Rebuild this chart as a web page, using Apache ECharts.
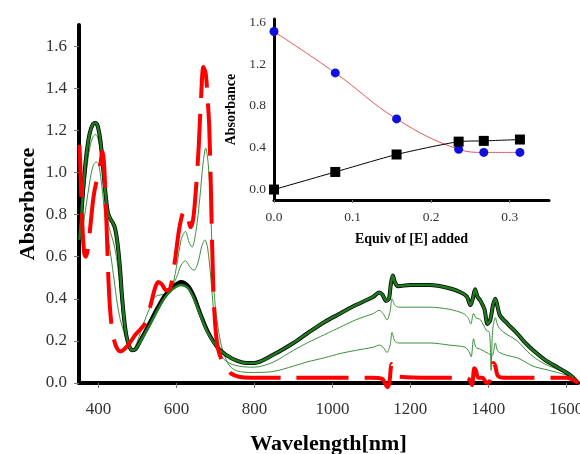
<!DOCTYPE html>
<html>
<head>
<meta charset="utf-8">
<script src="https://cdn.jsdelivr.net/npm/echarts@6/dist/echarts.min.js"></script>
<style>html,body{margin:0;padding:0;background:#fff}#c{width:580px;height:454px}</style>
</head>
<body>
<div id="c"></div>
<script>
// ---- Main spectra data (wavelength nm, absorbance) ----
const redWl = [351,353,356,360,364,368,373,380,387,394,400,405,410,414,418,422,426,431,438,446,456,466,480,495,510,522,535,545,553,562,574,584,596,606,615,623,630,636,643,650,657,663,669,675,680,684,688,692,696,701,707,716,728,740,760,790,900,1000,1100,1128,1136,1141,1146,1152,1156,1162,1170,1250,1340,1352,1358,1364,1368,1374,1385,1396,1402,1408,1413,1418,1424,1440,1600,1618,1630];
const redA  = [1.13,1.05,0.88,0.70,0.61,0.60,0.64,0.76,0.88,0.95,0.98,1.04,1.10,1.05,0.88,0.68,0.47,0.32,0.22,0.17,0.15,0.16,0.19,0.23,0.26,0.29,0.38,0.45,0.48,0.47,0.44,0.45,0.58,0.72,0.80,0.82,0.78,0.74,0.78,0.92,1.12,1.35,1.50,1.47,1.35,1.22,0.95,0.62,0.38,0.24,0.16,0.11,0.07,0.045,0.03,0.025,0.025,0.025,0.025,0.02,-0.005,-0.02,0.0,0.09,0.08,0.04,0.03,0.025,0.025,0.015,-0.01,0.07,0.06,0.025,0.025,0.0,0.005,0.025,0.095,0.08,0.035,0.025,0.025,0.015,0.0];

const g1Wl = [351,355,360,368,378,386,394,400,407,414,420,426,432,440,448,456,464,472,480,487,500,515,530,541,551,565,584,600,612,623,632,640,650,660,668,675,681,687,691,695,701,707,715,730,746,770,800,849,900,935,980,1020,1060,1105,1120,1130,1140,1148,1153,1160,1170,1250,1300,1340,1350,1356,1362,1368,1380,1400,1410,1418,1425,1450,1474,1515,1545,1577,1610,1630];
const g1A  = [0.70,0.69,0.74,0.84,0.96,1.03,1.05,1.04,0.96,0.84,0.74,0.67,0.60,0.49,0.38,0.30,0.25,0.20,0.165,0.155,0.20,0.28,0.35,0.40,0.415,0.42,0.43,0.55,0.68,0.72,0.67,0.645,0.72,0.88,1.04,1.115,1.05,0.87,0.65,0.47,0.34,0.26,0.18,0.10,0.065,0.052,0.05,0.055,0.08,0.10,0.12,0.14,0.155,0.17,0.18,0.17,0.145,0.18,0.24,0.20,0.19,0.19,0.18,0.17,0.15,0.125,0.21,0.17,0.16,0.14,0.13,0.19,0.15,0.13,0.12,0.08,0.065,0.05,0.03,0.0];

const g2Wl = [351,356,362,370,378,386,393,400,407,414,420,427,435,442,449,455,462,470,480,488,500,520,541,560,580,600,612,623,635,645,655,665,673,680,688,696,705,715,730,760,800,849,900,935,980,1020,1060,1105,1120,1130,1140,1148,1153,1160,1170,1250,1300,1336,1348,1355,1362,1368,1380,1395,1403,1407,1411,1418,1425,1440,1474,1500,1515,1545,1577,1610,1630];
const g2A  = [0.70,0.76,0.88,1.02,1.12,1.17,1.18,1.15,1.06,0.93,0.82,0.74,0.69,0.64,0.56,0.45,0.32,0.22,0.165,0.155,0.18,0.25,0.335,0.39,0.43,0.50,0.56,0.58,0.55,0.535,0.57,0.65,0.68,0.64,0.50,0.33,0.20,0.13,0.10,0.08,0.075,0.10,0.155,0.19,0.23,0.265,0.30,0.33,0.345,0.33,0.30,0.34,0.40,0.37,0.36,0.36,0.35,0.33,0.31,0.28,0.33,0.31,0.30,0.25,0.24,0.06,0.25,0.31,0.27,0.24,0.20,0.15,0.125,0.09,0.065,0.035,0.0];

const finalWl = [351,356,362,370,378,386,392,398,405,412,418,424,430,437,443,449,455,460,466,472,480,487,495,510,530,551,570,590,612,630,645,661,680,705,730,756,780,800,849,900,935,980,1020,1060,1105,1120,1128,1138,1145,1150,1155,1160,1168,1200,1250,1300,1330,1345,1354,1360,1366,1372,1380,1390,1398,1405,1412,1418,1424,1430,1450,1474,1495,1515,1545,1577,1600,1615,1630];
const finalBlackA = [0.68,0.80,0.95,1.10,1.19,1.23,1.235,1.22,1.15,1.02,0.90,0.81,0.78,0.76,0.73,0.66,0.55,0.42,0.30,0.22,0.17,0.155,0.16,0.21,0.28,0.355,0.415,0.455,0.48,0.46,0.41,0.33,0.245,0.17,0.13,0.105,0.095,0.095,0.135,0.19,0.235,0.29,0.33,0.37,0.41,0.43,0.42,0.39,0.40,0.47,0.51,0.48,0.46,0.465,0.465,0.45,0.43,0.41,0.37,0.40,0.445,0.41,0.39,0.35,0.28,0.30,0.37,0.40,0.36,0.32,0.28,0.235,0.19,0.155,0.11,0.075,0.05,0.03,0.0];
const finalGreenA = [0.68,0.80,0.95,1.10,1.19,1.23,1.235,1.22,1.15,1.02,0.90,0.81,0.78,0.76,0.73,0.66,0.55,0.42,0.30,0.22,0.17,0.155,0.16,0.205,0.27,0.345,0.405,0.445,0.465,0.45,0.40,0.325,0.24,0.17,0.13,0.105,0.095,0.095,0.135,0.19,0.235,0.29,0.33,0.37,0.41,0.43,0.42,0.39,0.40,0.47,0.51,0.48,0.46,0.465,0.465,0.45,0.43,0.41,0.37,0.40,0.445,0.41,0.39,0.35,0.28,0.30,0.37,0.40,0.36,0.32,0.28,0.235,0.19,0.155,0.11,0.075,0.05,0.03,0.0];

// ---- Inset titration data ----
const equiv = [0, 0.078, 0.156, 0.235, 0.267, 0.313];
const abs670 = [1.51, 1.115, 0.675, 0.385, 0.355, 0.355];
const absNIR = [0.0, 0.168, 0.335, 0.458, 0.465, 0.478];

// ---- Tick labels ----
const wlTicks = [400, 600, 800, 1000, 1200, 1400, 1600];
const absTicks = [0, 0.2, 0.4, 0.6, 0.8, 1.0, 1.2, 1.4, 1.6];
const insetXTicks = [0, 0.1, 0.2, 0.3];
const insetYTicks = [0, 0.4, 0.8, 1.2, 1.6];

const pair = (xs, ys) => xs.map((x, i) => [x, ys[i]]);
const serif = 'Liberation Serif';

const chart = echarts.init(document.getElementById('c'), null, {renderer: 'canvas'});
chart.setOption({
  animation: false,
  backgroundColor: '#fff',
  grid: [
    {left: 79, right: 2, top: 25, bottom: 71, containLabel: false, outerBoundsMode: 'none'},
    {left: 274, right: 31, top: 19, bottom: 254, containLabel: false, outerBoundsMode: 'none'}
  ],
  xAxis: [
    {
      gridIndex: 0, type: 'value', min: 350, max: 1630,
      name: 'Wavelength[nm]', nameLocation: 'middle', nameGap: 50, nameMoveOverlap: false,
      nameTextStyle: {fontFamily: serif, fontWeight: 'bold', fontSize: 22, color: '#000'},
      axisLine: {onZero: false, lineStyle: {color: '#000', width: 4}},
      axisTick: {show: true, customValues: wlTicks, length: 5, lineStyle: {color: '#777', width: 1}},
      axisLabel: {customValues: wlTicks, margin: 18, fontFamily: serif, fontSize: 17, color: '#333',
        formatter: v => String(v)},
      splitLine: {show: false}
    },
    {
      gridIndex: 1, type: 'value', min: 0, max: 0.35,
      name: 'Equiv of [E] added', nameLocation: 'middle', nameGap: 32, nameMoveOverlap: false,
      nameTextStyle: {fontFamily: serif, fontWeight: 'bold', fontSize: 14, color: '#000'},
      axisLine: {onZero: false, lineStyle: {color: '#000', width: 3}},
      axisTick: {show: true, customValues: insetXTicks, length: 3, lineStyle: {color: '#777'}},
      axisLabel: {customValues: insetXTicks, margin: 10, fontFamily: serif, fontSize: 13.5, color: '#333',
        formatter: v => v.toFixed(1)},
      splitLine: {show: false}
    }
  ],
  yAxis: [
    {
      gridIndex: 0, type: 'value', min: 0, max: 1.7,
      name: 'Absorbance', nameLocation: 'middle', nameGap: 40, nameRotate: 90, nameMoveOverlap: false,
      nameTextStyle: {fontFamily: serif, fontWeight: 'bold', fontSize: 22, color: '#000'},
      axisLine: {show: true, lineStyle: {color: '#000', width: 4}},
      axisTick: {show: true, customValues: absTicks, length: 5, lineStyle: {color: '#777'}},
      axisLabel: {customValues: absTicks, margin: 12, fontFamily: serif, fontSize: 17, color: '#333',
        formatter: v => v.toFixed(1)},
      splitLine: {show: false}
    },
    {
      gridIndex: 1, type: 'value', min: -0.1, max: 1.63,
      name: 'Absorbance', nameLocation: 'middle', nameGap: 36, nameRotate: 90, nameMoveOverlap: false,
      nameTextStyle: {fontFamily: serif, fontWeight: 'bold', fontSize: 14, color: '#000'},
      axisLine: {show: true, onZero: false, lineStyle: {color: '#000', width: 3}},
      axisTick: {show: false},
      axisLabel: {customValues: insetYTicks, margin: 8, fontFamily: serif, fontSize: 13.5, color: '#333',
        formatter: v => v.toFixed(1)},
      splitLine: {show: false}
    }
  ],
  series: [
    {type: 'line', xAxisIndex: 0, yAxisIndex: 0, data: pair(g1Wl, g1A), showSymbol: false, smooth: 0.3, clip: false,
     lineStyle: {color: '#3c8f3c', width: 1}},
    {type: 'line', xAxisIndex: 0, yAxisIndex: 0, data: pair(g2Wl, g2A), showSymbol: false, smooth: 0.3, clip: false,
     lineStyle: {color: '#3c8f3c', width: 1}},
    {type: 'line', xAxisIndex: 0, yAxisIndex: 0, data: pair(finalWl, finalBlackA), showSymbol: false, smooth: 0.3, clip: false,
     lineStyle: {color: '#000', width: 4}},
    {type: 'line', xAxisIndex: 0, yAxisIndex: 0, data: pair(finalWl, finalGreenA), showSymbol: false, smooth: 0.3, clip: false,
     lineStyle: {color: '#1f7a1f', width: 2.5}},
    {type: 'line', xAxisIndex: 0, yAxisIndex: 0, data: pair(redWl, redA), showSymbol: false, smooth: 0.3, clip: false,
     lineStyle: {color: '#ff0000', width: 4, type: [52, 16]}},
    {type: 'line', xAxisIndex: 1, yAxisIndex: 1, data: pair(equiv, abs670), smooth: 0.4,
     symbol: 'circle', symbolSize: 9, itemStyle: {color: '#1010dd'},
     lineStyle: {color: '#e05a5a', width: 1}},
    {type: 'line', xAxisIndex: 1, yAxisIndex: 1, data: pair(equiv, absNIR), smooth: 0.2,
     symbol: 'rect', symbolSize: 10, itemStyle: {color: '#000'},
     lineStyle: {color: '#000', width: 1}}
  ]
});
</script>
</body>
</html>
